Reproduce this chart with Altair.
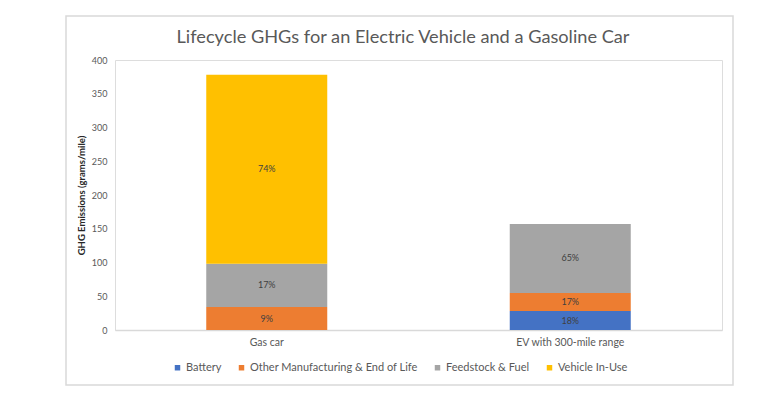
import altair as alt
import pandas as pd

vehicles = ["Gas car", "EV with 300-mile range"]
categories = ["Battery", "Other Manufacturing & End of Life", "Feedstock & Fuel", "Vehicle In-Use"]
colors = ["#4472C4", "#ED7D31", "#A5A5A5", "#FFC000"]
gas_values = [0, 34, 64, 280]
ev_values = [28, 27, 102, 0]
y_ticks = [0, 50, 100, 150, 200, 250, 300, 350, 400]
chart_title = "Lifecycle GHGs for an Electric Vehicle and a Gasoline Car"

rows = []
for v, vals in zip(vehicles, [gas_values, ev_values]):
    total = sum(vals)
    for i, (c, val) in enumerate(zip(categories, vals)):
        rows.append({"vehicle": v, "category": c, "order": i, "value": val,
                     "pct": f"{round(100 * val / total)}%"})
df = pd.DataFrame(rows)

FONT = "Lato"
GREY = "#595959"

x_axis = alt.Axis(title=None, labelAngle=0, ticks=False, domainColor="#d9d9d9",
                  domainWidth=1.5, labelColor=GREY, labelFontSize=10.5,
                  labelPadding=7, labelFont=FONT)
y_axis = alt.Axis(title="GHG Emissions (grams/mile)", values=y_ticks, grid=False,
                  domain=False, ticks=False, labelColor=GREY, labelFontSize=9,
                  labelPadding=8, labelFont=FONT, titleFont=FONT, titleFontSize=9.5,
                  titleColor="#262626", titleFontWeight="bold", titlePadding=5,
                  labelOverlap=False)
y_scale = alt.Scale(domain=[0, 400], nice=False)
x_scale = alt.Scale(paddingInner=0.6, paddingOuter=0.3)

bars = alt.Chart(df).transform_filter("datum.value > 0").mark_bar(size=121).encode(
    x=alt.X("vehicle:N", sort=vehicles, scale=x_scale, axis=x_axis),
    y=alt.Y("value:Q", stack="zero", scale=y_scale, axis=y_axis),
    color=alt.Color("category:N", sort=categories,
                    scale=alt.Scale(domain=categories, range=colors),
                    legend=alt.Legend(title=None, orient="none", direction="horizontal",
                                      legendX=57, legendY=302, symbolType="square",
                                      symbolSize=30, symbolStrokeWidth=0, labelFontSize=11,
                                      labelColor=GREY, labelFont=FONT, columnPadding=14,
                                      labelOffset=3, labelLimit=400)),
    order=alt.Order("order:Q"),
)

labels = alt.Chart(df).transform_filter("datum.value > 0").transform_stack(
    stack="value", groupby=["vehicle"], sort=[alt.SortField("order")], as_=["y0", "y1"]
).transform_calculate(mid="(datum.y0 + datum.y1) / 2").mark_text(
    font=FONT, fontSize=9, color="#404040"
).encode(
    x=alt.X("vehicle:N", sort=vehicles, scale=x_scale, axis=x_axis),
    y=alt.Y("mid:Q", scale=y_scale, axis=y_axis),
    text="pct:N",
)

frame = alt.Chart(pd.DataFrame({"a": [0]})).mark_rect(
    fill=None, stroke="#d9d9d9", strokeWidth=1.5
).encode(x=alt.value(-49), x2=alt.value(618), y=alt.value(-44), y2=alt.value(325))

title = alt.Chart(pd.DataFrame({"t": [chart_title]})).mark_text(
    font=FONT, fontSize=18.2, color=GREY, align="center", baseline="middle"
).encode(x=alt.value(288), y=alt.value(-22), text="t:N")

chart = alt.layer(frame, bars, labels, title).properties(
    width=607, height=270,
    padding={"left": 107, "top": 52, "right": 40, "bottom": 57},
    autosize=alt.AutoSizeParams(type="none"),
).configure_view(stroke=None).configure(background="white")

chart.save("out.html", embed_options={"renderer": "svg", "actions": False})
